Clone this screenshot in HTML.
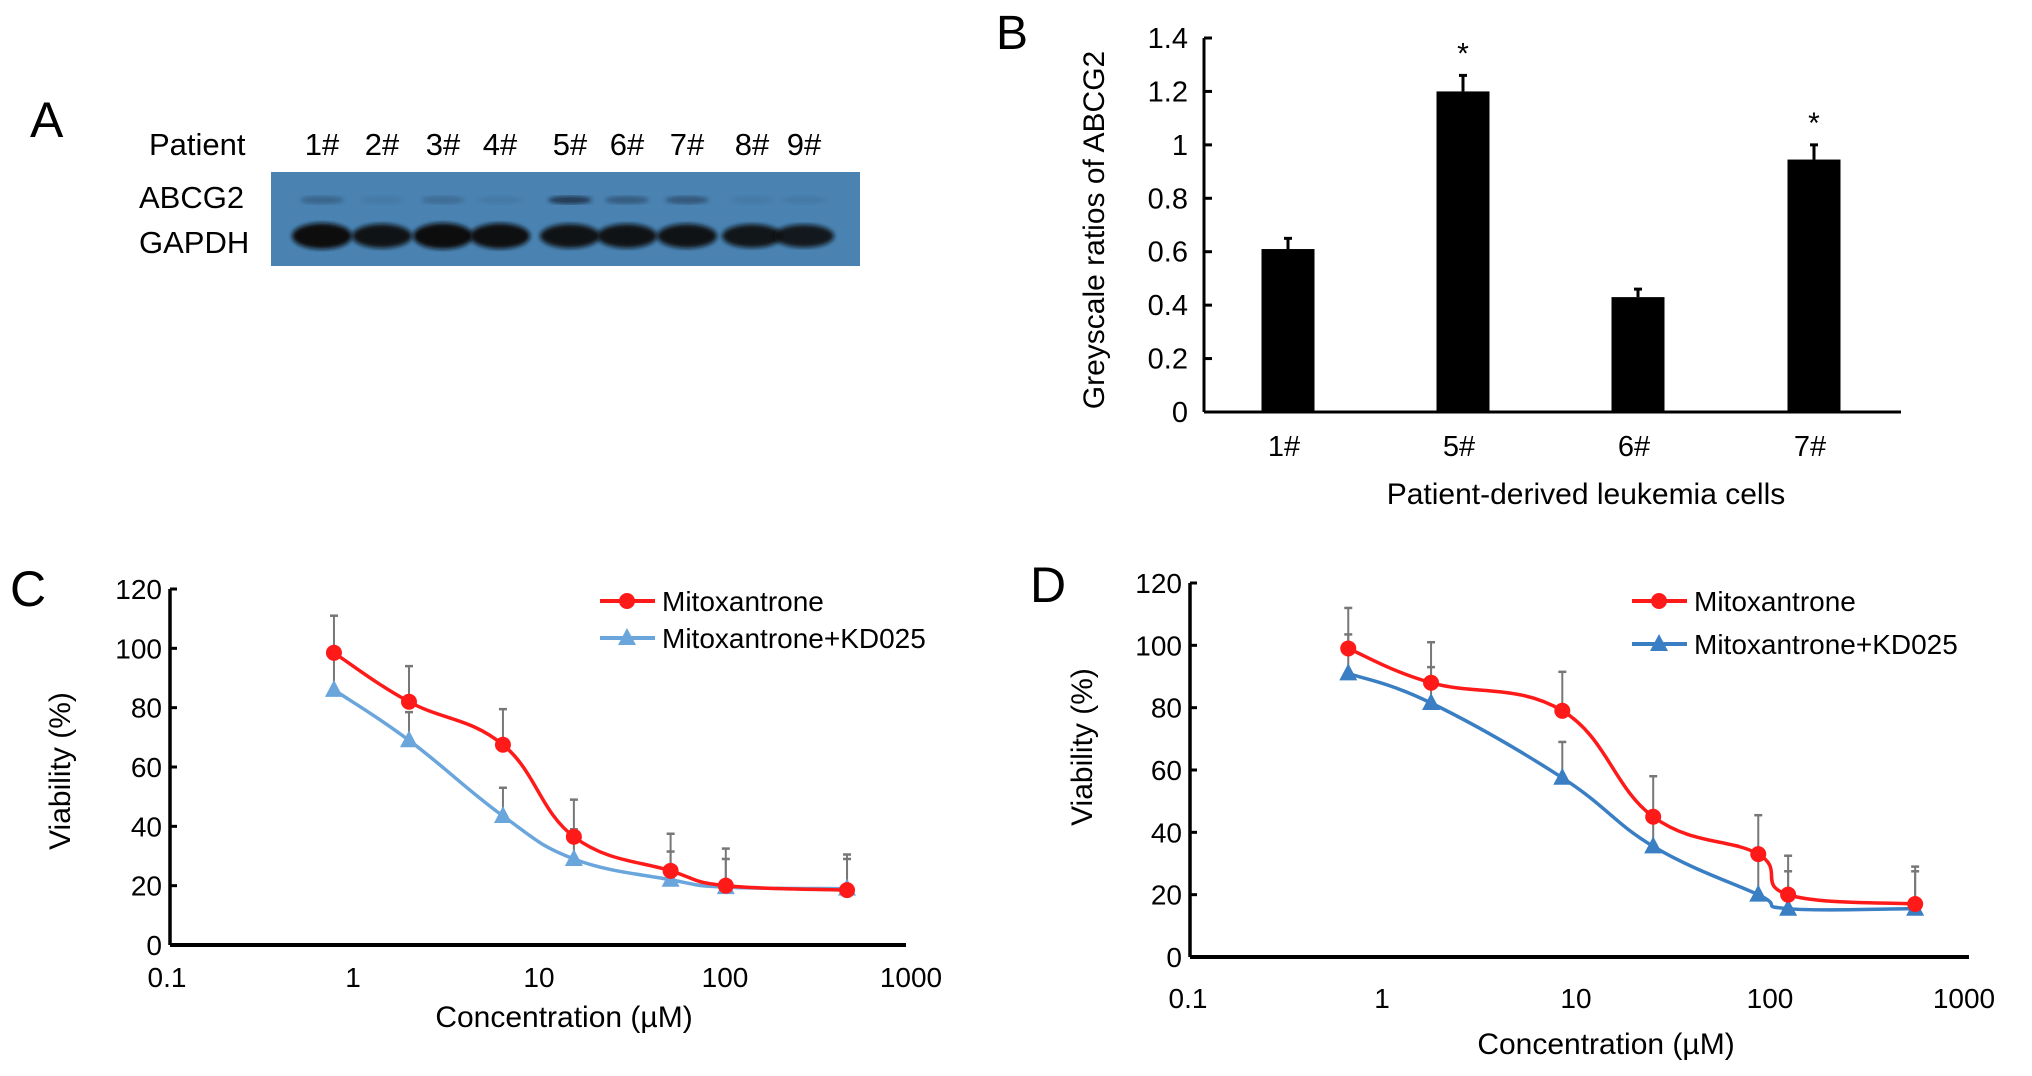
<!DOCTYPE html>
<html><head><meta charset="utf-8">
<style>
html,body{margin:0;padding:0;background:#fff;}
svg{display:block;font-family:"Liberation Sans",Arial,sans-serif;}
</style></head>
<body>
<svg id="fig" width="2032" height="1076" viewBox="0 0 2032 1076">
<defs>
<filter id="blur3"><feGaussianBlur stdDeviation="3"/></filter>
<filter id="blur2"><feGaussianBlur stdDeviation="2"/></filter>
</defs>
<!-- Panel A -->
<g>
<text x="30" y="137" font-size="50">A</text>
<text x="149" y="155" font-size="31">Patient</text>
<text x="139" y="208" font-size="31">ABCG2</text>
<text x="139" y="253" font-size="31">GAPDH</text>
<rect x="271" y="172" width="589" height="94" fill="#4a83b2"/>
<g id="lanes"></g>
</g>
<!-- Panel B -->
<g id="panelB">
<text x="996" y="49" font-size="48">B</text>
</g>
<!-- Panel C -->
<g id="panelC">
<text x="10" y="606" font-size="50">C</text>
</g>
<!-- Panel D -->
<g id="panelD">
<text x="1030" y="602" font-size="50">D</text>
</g>
</svg>
<script>
// ---- Panel A data ----
const laneLabels = ['1#','2#','3#','4#','5#','6#','7#','8#','9#'];
const abcg2Intensity = [0.35,0.1,0.25,0.1,0.85,0.45,0.5,0.1,0.1];
const gapdhIntensity = [1.0,0.85,1.0,0.95,0.85,0.85,0.85,0.8,0.75];
// ---- Panel B data ----
const bCategories = ['1#','5#','6#','7#'];
const bValues = [0.61,1.2,0.43,0.945];
const bErrors = [0.04,0.06,0.03,0.055];
const bSignif = [false,true,false,true];
const bTicks = ['0','0.2','0.4','0.6','0.8','1','1.2','1.4'];
// ---- Panel C data ----
const cConc = [0.79,2.0,6.4,15.4,51,101,453];
const cMito = [98.5,82,67.5,36.5,25,20,18.5];
const cMitoErr = [12.5,12,12,12.5,12.5,12.5,12];
const cKD = [86,69,43.5,29,22,19.5,19];
const cKDErr = [11,9.5,9.5,10,9.5,9.5,10];
// ---- Panel D data ----
const dConc = [0.67,1.79,8.5,25,87,124,560];
const dMito = [99,88,79,45,33,20,17];
const dMitoErr = [13,13,12.5,13,12.5,12.5,12];
const dKD = [91,81.5,57.5,35.5,20,15.5,15.5];
const dKDErr = [12.5,11.5,11.5,11,12,12,12];
const yTicksViab = ['0','20','40','60','80','100','120'];
const xTicksLog = ['0.1','1','10','100','1000'];

const NS='http://www.w3.org/2000/svg';
function mk(tag,attrs,parent){const e=document.createElementNS(NS,tag);for(const k in attrs)e.setAttribute(k,attrs[k]);parent.appendChild(e);return e;}

// Panel A lanes
const lanes=document.getElementById('lanes');
const laneX=i=>[322,382,443,500,570,627,687,752,804][i];
laneLabels.forEach((l,i)=>{
  const t=mk('text',{x:laneX(i),y:155,'font-size':31,'text-anchor':'middle'},lanes);t.textContent=l;
  
  
  const g=mk('ellipse',{cx:laneX(i),cy:236,rx:30,ry:7+6*gapdhIntensity[i],fill:'#111',opacity:0.6+0.4*gapdhIntensity[i],filter:'url(#blur2)'},lanes);
  
  
  const a=mk('ellipse',{cx:laneX(i),cy:200,rx:22,ry:4,fill:'#1a2a40',opacity:abcg2Intensity[i],filter:'url(#blur2)'},lanes);
  
  
});

// Panel B
(function(){
  const g=document.getElementById('panelB');
  const x0=1204,x1=1901,y0=412,yTop=38,vmax=1.4;
  const yS=v=>y0-(v/vmax)*(y0-yTop);
  const centers=[1288,1463,1638,1814];
  mk('line',{x1:x0,y1:yTop,x2:x0,y2:y0,stroke:'#000','stroke-width':3},g);
  mk('line',{x1:x0,y1:y0,x2:x1,y2:y0,stroke:'#000','stroke-width':3},g);
  bTicks.forEach((t,i)=>{const v=parseFloat(t);const y=yS(v);
    mk('line',{x1:x0,y1:y,x2:x0+8,y2:y,stroke:'#000','stroke-width':3},g);
    const tx=mk('text',{x:1188,y:y+10,'font-size':29,'text-anchor':'end'},g);tx.textContent=t;
    
    });
  bCategories.forEach((c,i)=>{
    const cx=centers[i],w=53;
    const r=mk('rect',{x:cx-w/2,y:yS(bValues[i]),width:w,height:y0-yS(bValues[i]),fill:'#000'},g);
    
    
    const et=yS(bValues[i]+bErrors[i]);
    mk('line',{x1:cx,y1:yS(bValues[i]),x2:cx,y2:et,stroke:'#000','stroke-width':3},g);
    mk('line',{x1:cx-4,y1:et,x2:cx+4,y2:et,stroke:'#000','stroke-width':3},g);
    if(bSignif[i]){const s=mk('text',{x:cx,y:et-12,'font-size':30,'text-anchor':'middle'},g);s.textContent='*';
      
      }
    const tl=mk('text',{x:cx-4,y:456,'font-size':29,'text-anchor':'middle'},g);tl.textContent=c;
    
    
  });
  const yt=mk('text',{x:0,y:0,'font-size':30,'text-anchor':'middle',transform:'translate(1104,230) rotate(-90)'},g);
  yt.textContent='Greyscale ratios of ABCG2';
  
  
  const xt=mk('text',{x:1586,y:504,'font-size':30,'text-anchor':'middle'},g);
  xt.textContent='Patient-derived leukemia cells';
  
  
})();

function smoothPath(pts){
  let d='M'+pts[0][0]+','+pts[0][1];
  for(let i=0;i<pts.length-1;i++){
    const p0=pts[i-1]||pts[i],p1=pts[i],p2=pts[i+1],p3=pts[i+2]||p2;
    const t=0.2;
    const c1=[p1[0]+(p2[0]-p0[0])*t,p1[1]+(p2[1]-p0[1])*t];
    const c2=[p2[0]-(p3[0]-p1[0])*t,p2[1]-(p3[1]-p1[1])*t];
    d+=' C'+c1[0]+','+c1[1]+' '+c2[0]+','+c2[1]+' '+p2[0]+','+p2[1];
  }
  return d;
}

function viabPanel(id,cfg,conc,mito,mitoErr,kd,kdErr){
  const g=document.getElementById(id);
  const xS=c=>cfg.xLog0+(Math.log10(c)+1)*cfg.dec;
  const yS=v=>cfg.y0-(v/120)*(cfg.y0-cfg.yTop);
  mk('line',{x1:cfg.ax,y1:cfg.yTop,x2:cfg.ax,y2:cfg.y0,stroke:'#000','stroke-width':3.5},g);
  mk('line',{x1:cfg.ax,y1:cfg.y0,x2:cfg.xEnd,y2:cfg.y0,stroke:'#000','stroke-width':4},g);
  yTicksViab.forEach(t=>{const y=yS(+t);
    mk('line',{x1:cfg.ax,y1:y,x2:cfg.ax+7,y2:y,stroke:'#000','stroke-width':3},g);
    const tx=mk('text',{x:cfg.ax-8,y:y+10,'font-size':28,'text-anchor':'end'},g);tx.textContent=t;
    
    });
  xTicksLog.forEach(t=>{const x=xS(+t);
    const tx=mk('text',{x:x,y:cfg.xTickY,'font-size':28,'text-anchor':'middle'},g);tx.textContent=t;
    
    });
  const series=[[mito,mitoErr,'#ff1a1a','circle','mitoxantrone'],[kd,kdErr,cfg.blue,'tri','mitoxantrone-kd025']];
  // error bars
  series.forEach(s=>{conc.forEach((c,i)=>{const x=xS(c),y=yS(s[0][i]),et=yS(s[0][i]+s[1][i]);
    const l=mk('line',{x1:x,y1:y,x2:x,y2:et,stroke:'#777','stroke-width':2},g);
    
    
    mk('line',{x1:x-4,y1:et,x2:x+4,y2:et,stroke:'#777','stroke-width':2.5},g);});});
  series.slice().reverse().forEach(s=>{
    const pts=conc.map((c,i)=>[xS(c),yS(s[0][i])]);
    const p=mk('path',{d:smoothPath(pts),fill:'none',stroke:s[2],'stroke-width':3.5},g);
    
    
    pts.forEach(pt=>{let m;
      if(s[3]==='circle')m=mk('circle',{cx:pt[0],cy:pt[1],r:8,fill:s[2]},g);
      else m=mk('polygon',{points:(pt[0])+','+(pt[1]-10)+' '+(pt[0]-9)+','+(pt[1]+7)+' '+(pt[0]+9)+','+(pt[1]+7),fill:s[2]},g);
      
      });
  });
  // legend
  series.forEach((s,k)=>{const y=cfg.legY[k];
    const ln=mk('line',{x1:cfg.legX,y1:y,x2:cfg.legX+55,y2:y,stroke:s[2],'stroke-width':4},g);
    
    
    const cx=cfg.legX+27;
    if(s[3]==='circle')mk('circle',{cx:cx,cy:y,r:8,fill:s[2]},g);
    else mk('polygon',{points:cx+','+(y-10)+' '+(cx-9)+','+(y+7)+' '+(cx+9)+','+(y+7),fill:s[2]},g);
    const t=mk('text',{x:cfg.legX+62,y:y+10,'font-size':28},g);t.textContent=k===0?'Mitoxantrone':'Mitoxantrone+KD025';
    
    });
  const yt=mk('text',{x:0,y:0,'font-size':30,'text-anchor':'middle',transform:'translate('+cfg.yTitleX+','+cfg.yTitleY+') rotate(-90)'},g);
  yt.textContent='Viability (%)';
  
  
  const xt=mk('text',{x:cfg.xTitleX,y:cfg.xTitleY,'font-size':30,'text-anchor':'middle'},g);
  xt.textContent='Concentration (\u00b5M)';
  
  
}
viabPanel('panelC',{ax:170,xEnd:906,y0:945,yTop:589,xLog0:167,dec:186,xTickY:987,blue:'#6aa6dc',
  legX:600,legY:[601,638],yTitleX:70,yTitleY:771,xTitleX:564,xTitleY:1027},cConc,cMito,cMitoErr,cKD,cKDErr);
viabPanel('panelD',{ax:1190,xEnd:1969,y0:957,yTop:583,xLog0:1188,dec:194,xTickY:1008,blue:'#3a7fc4',
  legX:1632,legY:[601,644],yTitleX:1092,yTitleY:747,xTitleX:1606,xTitleY:1054},dConc,dMito,dMitoErr,dKD,dKDErr);
</script>
</body></html>
